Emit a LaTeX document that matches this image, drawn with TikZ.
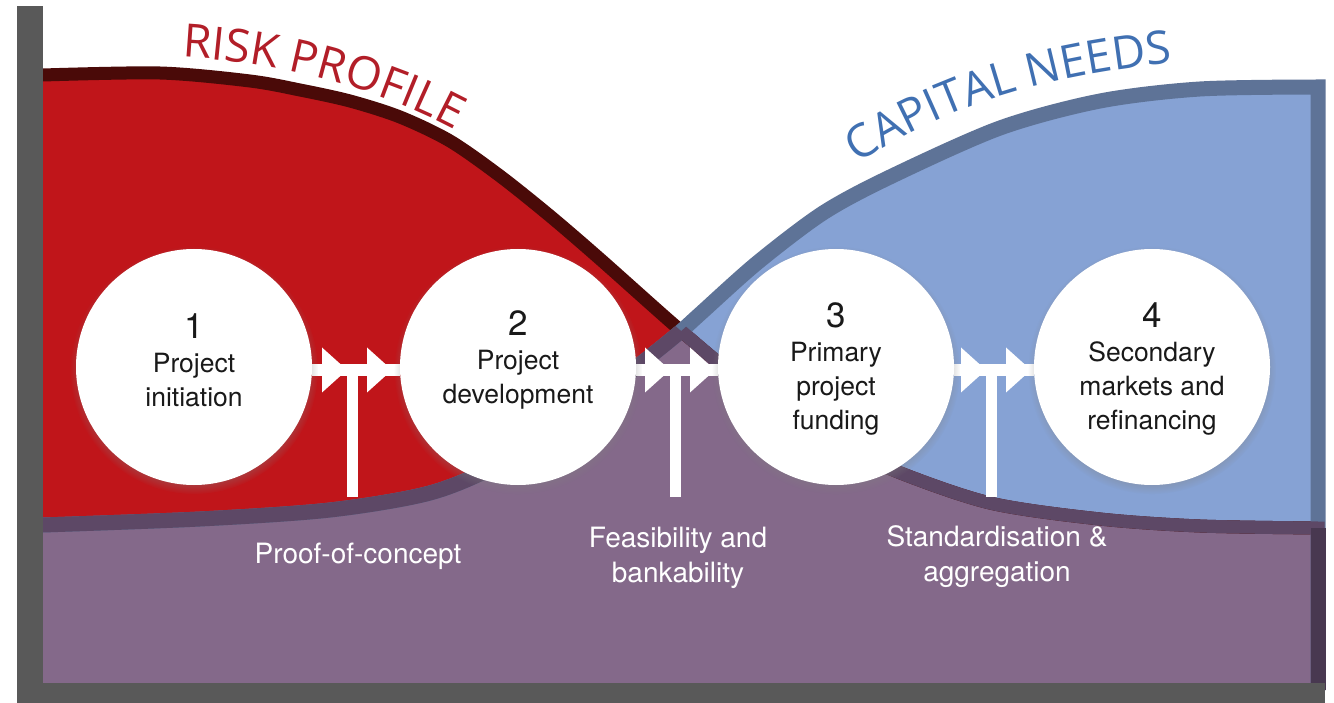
\documentclass[tikz,border=0pt]{standalone}
\usepackage{fontspec}
\setmainfont{TeX Gyre Heros}
\newfontfamily\osans{Open Sans}
\usetikzlibrary{decorations.text,shadows}
\definecolor{redfill}{RGB}{192,21,26}
\definecolor{redline}{RGB}{74,10,8}
\definecolor{bluefill}{RGB}{134,162,212}
\definecolor{blueline}{RGB}{94,115,151}
\definecolor{purplefill}{RGB}{132,105,138}
\definecolor{darkpurple}{RGB}{93,72,102}
\definecolor{deeppurple}{RGB}{72,56,80}
\definecolor{axisgray}{RGB}{89,89,89}
\definecolor{risktext}{RGB}{178,30,40}
\definecolor{captext}{RGB}{64,112,178}
\definecolor{circtext}{RGB}{25,25,25}
\pgfdeclarelayer{bg}\pgfdeclarelayer{mid}\pgfsetlayers{bg,mid,main}
\newcommand\redcurve{plot[smooth,tension=0.5] coordinates {(43,75) (160,73) (250,81) (300,90) (350,101) (400,117) (450,141) (500,176) (550,216) (600,259) (680,330) (750,388) (820,435) (893,470) (990,503) (1100,519) (1200,526) (1318,528)}}
\newcommand\bluecurve{plot[smooth,tension=0.5] coordinates {(43,525) (200,519) (330,510) (430,493) (500,464) (570,419) (643,362) (680,332) (700,314) (757,263) (823,213) (890,177) (1000,128) (1100,101) (1200,89) (1318,87)}}
\newcommand\riskfmt{\osans\fontsize{46}{46}\selectfont\color{risktext}}
\newcommand\capfmt{\osans\fontsize{46}{46}\selectfont\color{captext}}
\begin{document}
\begin{tikzpicture}[x=1pt,y=-1pt,
  circ/.style={circle, fill=white, minimum size=236pt, inner sep=0pt,
    circular drop shadow={shadow xshift=0pt, shadow yshift=-3pt, shadow scale=1.05, opacity=0.6}},
  ctext/.style={anchor=north, inner sep=0pt, align=center, text=circtext, font=\fontsize{26.5}{34}\selectfont},
  lbl/.style={anchor=north, inner sep=0pt, align=center, text=white, font=\fontsize{28}{35}\selectfont},
  band/.style={draw=white, line width=12pt},
  redstroke/.style={draw=redline, line width=13pt},
  bluestroke/.style={draw=blueline, line width=15pt},
  gate/.pic={
    \fill[white] (0,-22.5) -- (25,0) -- (0,22.5) -- cycle;
    \fill[white] (45,-22.5) -- (70,0) -- (45,22.5) -- cycle;
    \fill[white] (25,0) rectangle (36,127);
  }]
\useasboundingbox (0,0) rectangle (1334,703);
\begin{pgfonlayer}{bg}
  \fill[white] (0,0) rectangle (1334,703);
  % areas
  \fill[redfill] \redcurve -- (1318,683) -- (43,683) -- cycle;
  \fill[bluefill] \bluecurve -- (1318,683) -- (43,683) -- cycle;
  \begin{scope}
    \clip \redcurve -- (1318,683) -- (43,683) -- cycle;
    \fill[purplefill] \bluecurve -- (1318,683) -- (43,683) -- cycle;
  \end{scope}
  % outlines
  \draw[redstroke] \redcurve -- (1318,690);
  \draw[bluestroke] \bluecurve -- (1318,690);
  \begin{scope}
    \clip \redcurve -- (1340,528) -- (1340,700) -- (43,700) -- cycle;
    \draw[bluestroke, draw=darkpurple] \bluecurve -- (1318,690);
  \end{scope}
  \begin{scope}
    \clip \bluecurve -- (1340,87) -- (1340,700) -- (43,700) -- cycle;
    \draw[redstroke, draw=darkpurple] \redcurve -- (1318,690);
  \end{scope}
  \draw[line width=15pt, deeppurple] (1318,528) -- (1318,690);
\end{pgfonlayer}
% curved titles
\path[decorate, decoration={text along path, text align=left,
  text={|\riskfmt|RISK PROFILE}}] (182,57) .. controls (280,62) and (390,89) .. (480,144);
\path[decorate, decoration={text along path, text align=left,
  text={|\capfmt|CAPITAL NEEDS}}] (858,164) .. controls (950,103) and (1050,73) .. (1200,60);
% stages
\node[circ] (c1) at (194,367) {};
\node[circ] (c2) at (518,367) {};
\node[circ] (c3) at (836,367) {};
\node[circ] (c4) at (1152,367) {};
\node[ctext] (t1) at (194,313.5) {{\fontsize{35}{34}\selectfont 1}\\Project\\initiation};
\node[ctext] (t2) at (518,310) {{\fontsize{35}{34}\selectfont 2}\\Project\\development};
\node[ctext] (t3) at (836,302) {{\fontsize{35}{34}\selectfont 3}\\Primary\\project\\funding};
\node[ctext] (t4) at (1152,302) {{\fontsize{35}{34}\selectfont 4}\\Secondary\\markets and\\refinancing};
% gates between stages
\begin{pgfonlayer}{mid}
  \draw[band] ([yshift=-3pt]c1.east) -- ([yshift=-3pt]c2.west);
  \draw[band] ([yshift=-3pt]c2.east) -- ([yshift=-3pt]c3.west);
  \draw[band] ([yshift=-3pt]c3.east) -- ([yshift=-3pt]c4.west);
  \pic (g1) at (322,370) {gate};
  \pic (g2) at (645,370) {gate};
  \pic (g3) at (961,370) {gate};
\end{pgfonlayer}
% gate labels
\node[lbl] (l1) at (358,543) {Proof-of-concept};
\node[lbl] (l2) at (678,527) {Feasibility and\\bankability};
\node[lbl] (l3) at (997,525) {Standardisation \&\\aggregation};
% axes
\fill[axisgray] (17,6) rectangle (43,703);
\fill[axisgray] (17,683) rectangle (1325,703);
\end{tikzpicture}
\end{document}
